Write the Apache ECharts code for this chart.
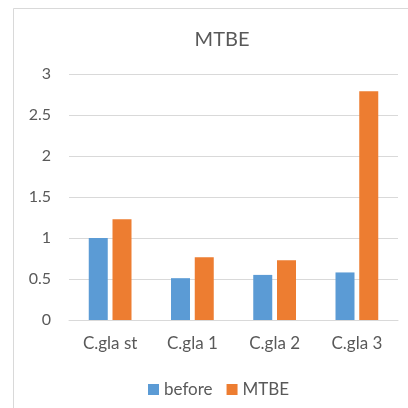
<!DOCTYPE html>
<html>
<head>
<meta charset="utf-8">
<script src="https://cdn.jsdelivr.net/npm/echarts@6/dist/echarts.min.js"></script>
<style>
  html, body { margin: 0; padding: 0; background: #fff; }
  #chart { width: 408px; height: 408px; }
</style>
</head>
<body>
<div id="chart"></div>
<script>
// Sample groups and measured values
const categories = ['C.gla st', 'C.gla 1', 'C.gla 2', 'C.gla 3'];
const beforeValues = [1.0, 0.51, 0.55, 0.58];
const mtbeValues = [1.23, 0.765, 0.73, 2.79];
const yTicks = { min: 0, max: 3, interval: 0.5 };

const FONT = 'Lato, "Liberation Sans", sans-serif';
const TEXT = '#595959';

const chart = echarts.init(document.getElementById('chart'));
chart.setOption({
  animation: false,
  backgroundColor: '#fff',
  graphic: [{
    type: 'rect',
    shape: { x: 13.5, y: 8.5, width: 420, height: 420 },
    style: { fill: 'none', stroke: '#d9d9d9', lineWidth: 1 },
    silent: true
  }],
  title: {
    text: 'MTBE',
    left: 217,
    textAlign: 'center',
    top: 25,
    textStyle: { fontFamily: FONT, fontSize: 20, fontWeight: 'normal', color: TEXT }
  },
  legend: {
    top: 376,
    left: 143,
    itemWidth: 11,
    itemHeight: 11,
    itemGap: 14,
    icon: 'rect',
    textStyle: { fontFamily: FONT, fontSize: 17, color: TEXT },
    data: ['before', 'MTBE']
  },
  grid: { left: 69, right: 10, top: 74, bottom: 88, containLabel: false },
  xAxis: {
    type: 'category',
    data: categories,
    axisLine: { lineStyle: { color: '#d9d9d9' } },
    axisTick: { show: false },
    axisLabel: { fontFamily: FONT, fontSize: 17, color: TEXT, margin: 15 }
  },
  yAxis: {
    type: 'value',
    min: yTicks.min,
    max: yTicks.max,
    interval: yTicks.interval,
    axisLine: { show: false },
    axisTick: { show: false },
    splitLine: { lineStyle: { color: '#d9d9d9' } },
    axisLabel: { fontFamily: FONT, fontSize: 16, color: TEXT, margin: 18 }
  },
  series: [
    { name: 'before', type: 'bar', data: beforeValues, barWidth: 19, barGap: '25%', itemStyle: { color: '#5B9BD5' } },
    { name: 'MTBE', type: 'bar', data: mtbeValues, barWidth: 19, itemStyle: { color: '#ED7D31' } }
  ]
});
</script>
</body>
</html>
